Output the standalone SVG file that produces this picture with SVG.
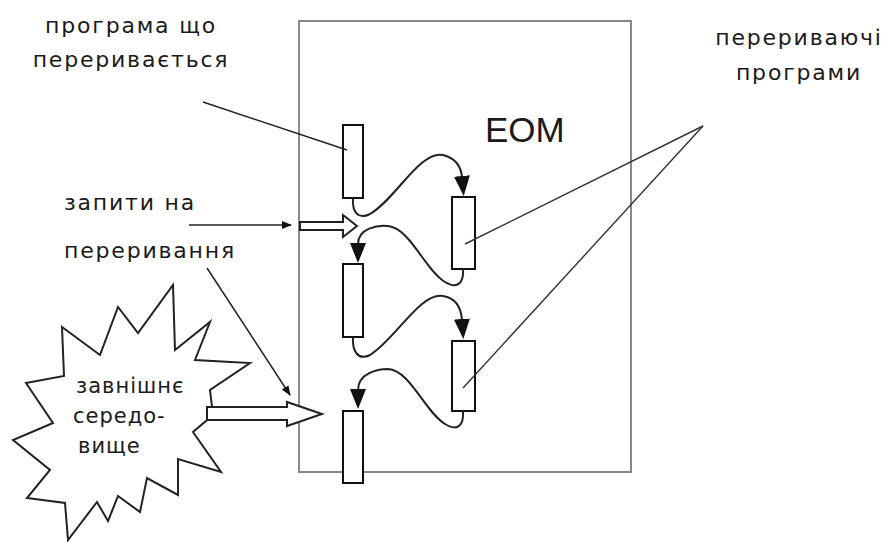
<svg xmlns="http://www.w3.org/2000/svg" width="893" height="542" viewBox="0 0 893 542">
<style>
.lbl{font-family:"DejaVu Sans","Liberation Sans",sans-serif;font-size:22px;fill:#1a1a1a;letter-spacing:1.8px;text-anchor:middle}
.st{font-family:"DejaVu Sans","Liberation Sans",sans-serif;font-size:21px;fill:#1a1a1a;letter-spacing:1px}
.bar{fill:#fff;stroke:#111;stroke-width:2}
.cur{fill:none;stroke:#222;stroke-width:2}
.thin{fill:none;stroke:#222;stroke-width:1.5}
.ptr{fill:none;stroke:#333;stroke-width:1.4}
.hol{fill:#fff;stroke:#222;stroke-width:2;stroke-linejoin:miter}
</style>
<defs>
<marker id="big" markerUnits="userSpaceOnUse" viewBox="0 0 20 16" markerWidth="20" markerHeight="16" refX="1" refY="8" orient="auto">
<path d="M0,0 L20,8 L0,16 z" fill="#111"/>
</marker>
<marker id="sm" markerUnits="userSpaceOnUse" viewBox="0 0 10 8" markerWidth="10" markerHeight="8" refX="9" refY="4" orient="auto">
<path d="M0,0 L10,4 L0,8 z" fill="#111"/>
</marker>
</defs>
<rect width="893" height="542" fill="#fff"/>

<g id="eom">
<rect x="299" y="21" width="332" height="451" fill="none" stroke="#888" stroke-width="2"/>
<text x="485" y="142" style="font-family:'Liberation Sans',sans-serif;font-size:35px;fill:#1a1a1a">EOM</text>
</g>

<g id="environment">
<polygon class="hol" points="26,383 64,376 62,327 100,355 118,307 138,333 173,285 175,350 210,322 195,360 250,363 210,390 213,415 193,432 221,472 178,459 178,495 147,478 140,512 118,496 108,521 97,502 68,540 65,503 27,498 50,470 13,440 53,423"/>
<text class="st" x="76" y="393">завнішнє</text>
<text class="st" x="73" y="423">середо-</text>
<text class="st" x="78" y="453">вище</text>
</g>

<g id="label-interrupted">
<text class="lbl" x="131" y="33">програма що</text>
<text class="lbl" x="131" y="67">переривається</text>
</g>
<g id="label-requests">
<text class="lbl" x="130" y="210">запити на</text>
<text class="lbl" x="150" y="258">переривання</text>
</g>
<g id="label-interrupting">
<text class="lbl" x="799" y="45">переривaючі</text>
<text class="lbl" x="799" y="80">програми</text>
</g>

<g id="bar1"><rect class="bar" x="343" y="125" width="20" height="73"/></g>
<g id="bar2"><rect class="bar" x="452" y="197" width="23" height="72"/></g>
<g id="bar3"><rect class="bar" x="343" y="264" width="20" height="73"/></g>
<g id="bar4"><rect class="bar" x="452" y="341" width="23" height="70"/></g>
<g id="bar5"><rect class="bar" x="343" y="411" width="20" height="72"/></g>

<g id="connectors">
<path class="cur" marker-end="url(#big)" d="M353,198 C352,212 358,220 370,214 C395,200 420,150 443,155 C455,158 461,166 462,177"/>
<path class="cur" marker-end="url(#big)" d="M463,269 C464,282 458,290 445,282 C425,270 410,228 388,226 C378,225 358,228 358,244"/>
<path class="cur" marker-end="url(#big)" d="M353,337 C352,351 358,361 370,355 C395,340 420,292 443,296 C455,298 461,306 462,320"/>
<path class="cur" marker-end="url(#big)" d="M463,411 C464,425 458,432 445,424 C425,412 410,370 388,369 C378,369 358,373 358,390"/>
<polygon class="hol" points="300,222 343,222 343,215 357,226 343,237 343,230 300,230"/>
<polygon class="hol" points="207,407 287,407 287,402 322,414 287,426 287,420 207,420"/>
<line class="thin" x1="203" y1="102" x2="347" y2="150"/>
<line class="thin" x1="189" y1="225" x2="291" y2="225" marker-end="url(#sm)"/>
<line class="thin" x1="207" y1="268" x2="290" y2="395" marker-end="url(#sm)"/>
<line class="ptr" x1="703" y1="126" x2="465" y2="244"/>
<line class="ptr" x1="703" y1="126" x2="463" y2="388"/>
</g>
</svg>
